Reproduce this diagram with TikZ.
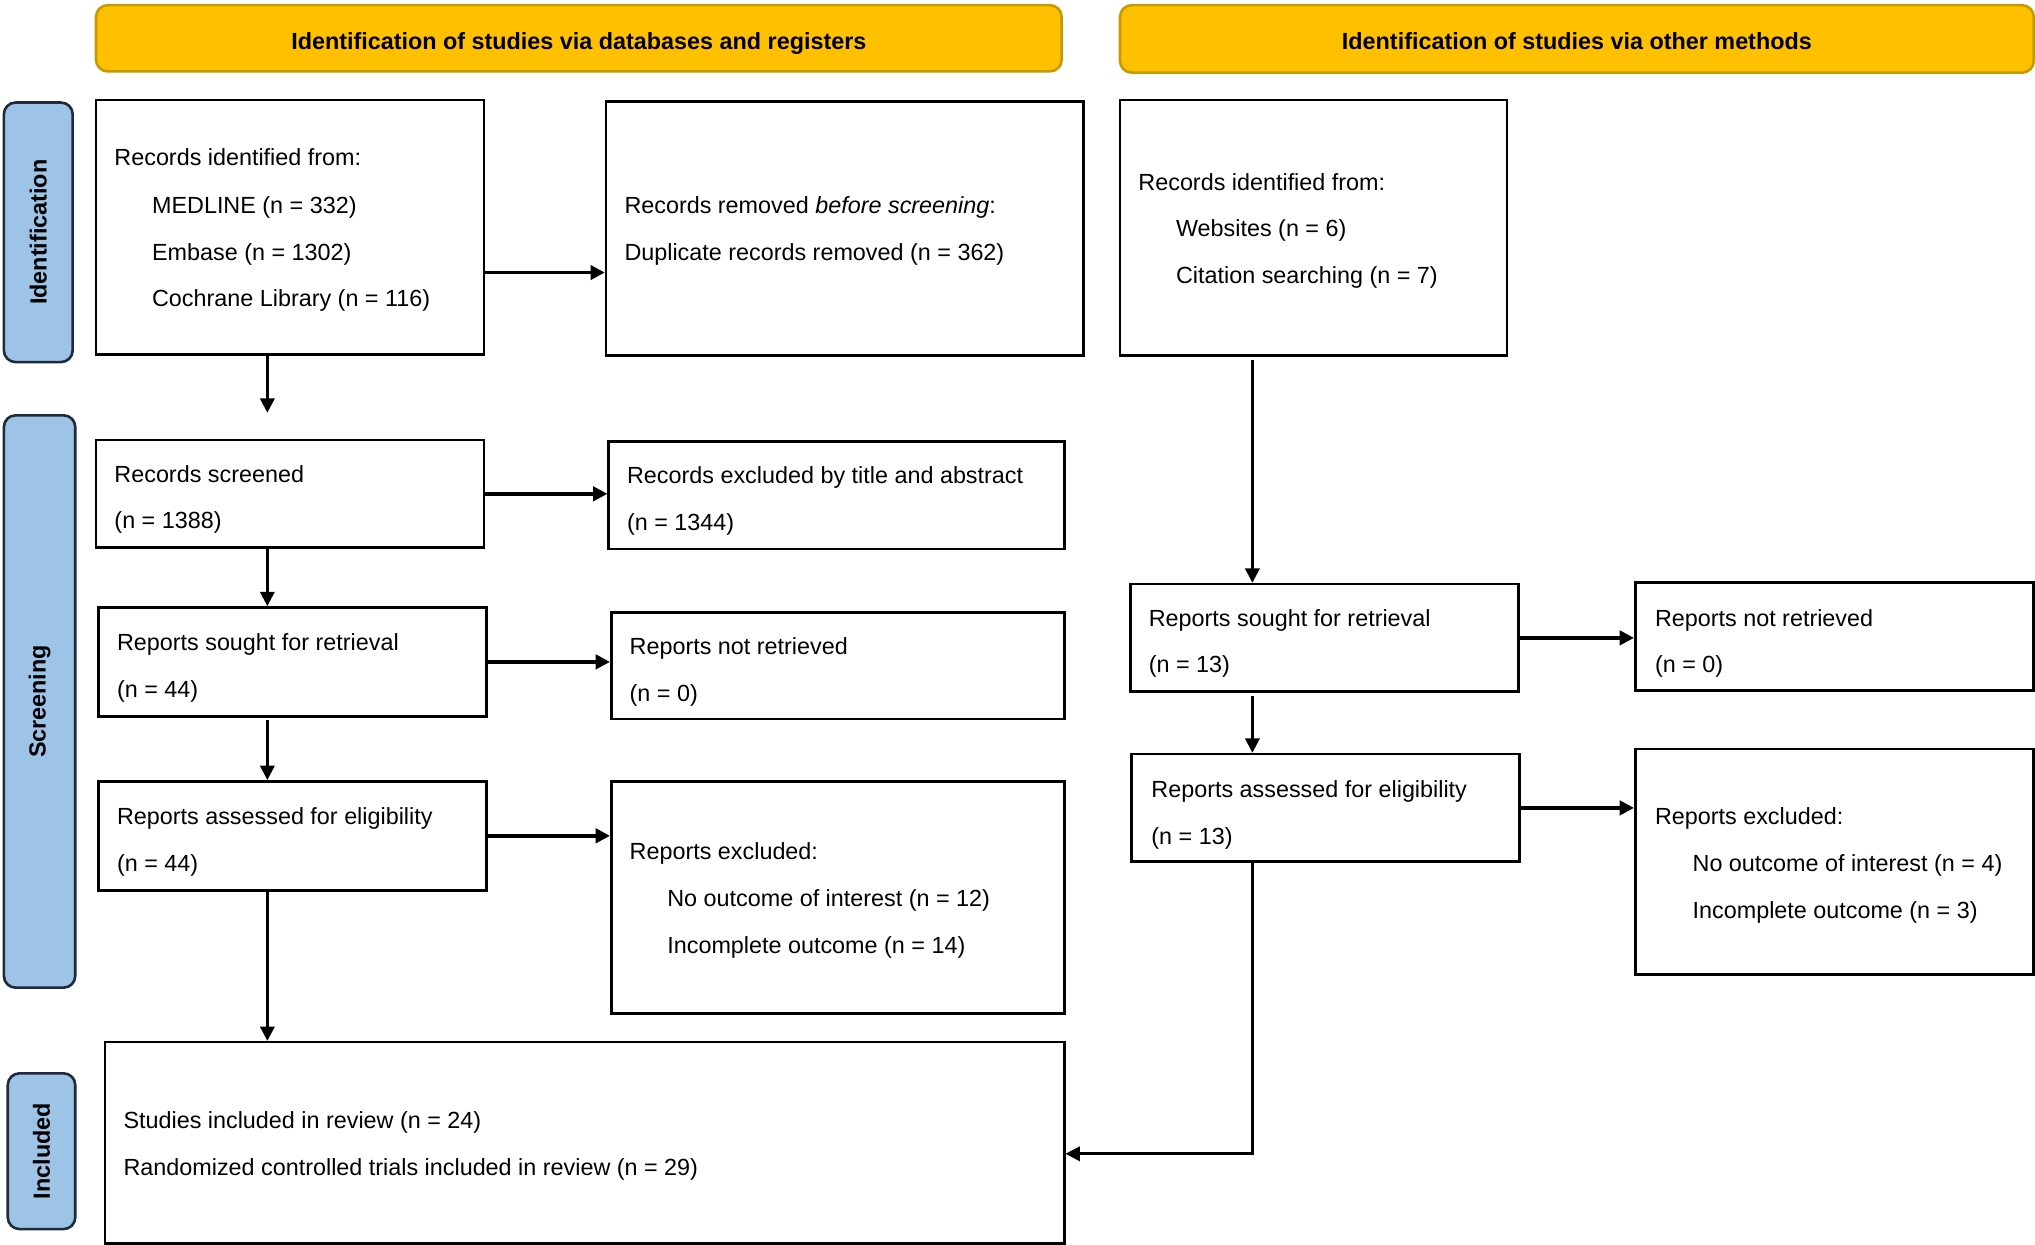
\documentclass[tikz,border=0pt]{standalone}
\usepackage{fontspec}
\setmainfont{Liberation Sans}
\usetikzlibrary{arrows.meta}
\definecolor{hdr}{HTML}{FFC000}
\definecolor{hdrb}{HTML}{C49A00}
\definecolor{side}{HTML}{9DC3E6}
\definecolor{sideb}{HTML}{1F2A3A}
\begin{document}
\begin{tikzpicture}[x=1pt,y=-1pt, font=\fontsize{18}{22}\selectfont,
 box/.style={draw, line width=2pt, anchor=north west, inner sep=0pt, fill=white},
 txt/.style={anchor=west, inner sep=0pt, text height=17pt, text depth=2pt},
 hdrbox/.style={draw=hdrb, fill=hdr, line width=2pt, rounded corners=9pt, inner sep=0pt, anchor=north west, text height=17pt, text depth=0pt, font=\fontsize{18}{22}\selectfont\bfseries},
 sidebox/.style={draw=sideb, fill=side, line width=2pt, rounded corners=9pt, inner sep=0pt, anchor=north west},
 sidetxt/.style={rotate=90, font=\fontsize{18}{22}\selectfont\bfseries, inner sep=0pt},
 arr/.style={line width=2pt, -{Triangle[length=11pt,width=11pt]}},
 harr/.style={line width=2.6pt, -{Triangle[length=11pt,width=11pt]}}]
\useasboundingbox (0,0) rectangle (1568,959);

% headers
\node[hdrbox, minimum width=744pt, minimum height=51pt] (h1) at (73,3) {Identification of studies via databases and registers};
\node[hdrbox, minimum width=704pt, minimum height=52pt] (h2) at (862,3) {Identification of studies via other methods};

% side labels
\node[sidebox, minimum width=53pt, minimum height=200pt] (s1) at (2,78) {};
\node[sidetxt] (s1t) at (s1.center) {Identification};
\node[sidebox, minimum width=55pt, minimum height=441pt] (s2) at (2,319) {};
\node[sidetxt] (s2t) at (s2.center) {Screening};
\node[sidebox, minimum width=52pt, minimum height=120pt] (s3) at (5,826) {};
\node[sidetxt] (s3t) at (s3.center) {Included};

% boxes
\node[box, minimum width=299pt, minimum height=196pt] (A) at (73,76) {};
\node[box, minimum width=368pt, minimum height=196pt] (B) at (466,77) {};
\node[box, minimum width=298pt, minimum height=197pt] (C) at (862,76) {};
\node[box, minimum width=299pt, minimum height=83pt] (D) at (73,338) {};
\node[box, minimum width=351pt, minimum height=83pt] (E) at (468,339) {};
\node[box, minimum width=299pt, minimum height=84pt] (F) at (75,467) {};
\node[box, minimum width=349pt, minimum height=82pt] (G) at (470,471) {};
\node[box, minimum width=299pt, minimum height=84pt] (H) at (75,601) {};
\node[box, minimum width=349pt, minimum height=179pt] (I) at (470,601) {};
\node[box, minimum width=739pt, minimum height=155pt] (J) at (80,802) {};
\node[box, minimum width=299pt, minimum height=83pt] (K) at (870,449) {};
\node[box, minimum width=307pt, minimum height=83pt] (L) at (1259,448) {};
\node[box, minimum width=299pt, minimum height=83pt] (M) at (871,580) {};
\node[box, minimum width=307pt, minimum height=174pt] (N) at (1259,576) {};

% texts
\node[txt] (a1) at (88,120) {Records identified from:};
\node[txt] (a2) at (117,157) {MEDLINE (n = 332)};
\node[txt] (a3) at (117,193) {Embase (n = 1302)};
\node[txt] (a4) at (117,229) {Cochrane Library (n = 116)};
\node[txt] (b1) at (481,157) {Records removed \textit{before screening}:};
\node[txt] (b2) at (481,193) {Duplicate records removed (n = 362)};
\node[txt] (c1) at (877,139) {Records identified from:};
\node[txt] (c2) at (906,175) {Websites (n = 6)};
\node[txt] (c3) at (906,211) {Citation searching (n = 7)};
\node[txt] (d1) at (88,364) {Records screened};
\node[txt] (d2) at (88,400) {(n = 1388)};
\node[txt] (e1) at (483,365) {Records excluded by title and abstract};
\node[txt] (e2) at (483,401) {(n = 1344)};
\node[txt] (f1) at (90,494) {Reports sought for retrieval};
\node[txt] (f2) at (90,530) {(n = 44)};
\node[txt] (g1) at (485,497) {Reports not retrieved};
\node[txt] (g2) at (485,533) {(n = 0)};
\node[txt] (hh1) at (90,628) {Reports assessed for eligibility};
\node[txt] (hh2) at (90,664) {(n = 44)};
\node[txt] (i1) at (485,655) {Reports excluded:};
\node[txt] (i2) at (514,691) {No outcome of interest (n = 12)};
\node[txt] (i3) at (514,727) {Incomplete outcome (n = 14)};
\node[txt] (j1) at (95,862) {Studies included in review (n = 24)};
\node[txt] (j2) at (95,898) {Randomized controlled trials included in review (n = 29)};
\node[txt] (k1) at (885,475) {Reports sought for retrieval};
\node[txt] (k2) at (885,511) {(n = 13)};
\node[txt] (l1) at (1275,475) {Reports not retrieved};
\node[txt] (l2) at (1275,511) {(n = 0)};
\node[txt] (m1) at (887,607) {Reports assessed for eligibility};
\node[txt] (m2) at (887,643) {(n = 13)};
\node[txt] (n1) at (1275,628) {Reports excluded:};
\node[txt] (n2) at (1304,664) {No outcome of interest (n = 4)};
\node[txt] (n3) at (1304,700) {Incomplete outcome (n = 3)};

% connectors
\coordinate (colL) at (206,0);
\coordinate (colR) at (965,0);
\coordinate (ab) at (0,210);
\coordinate (adEnd) at (206,318);
\coordinate (fStart) at (206,555);
\coordinate (cStart) at (965,277);
\coordinate (kStart) at (965,536);
\coordinate (mj) at (965,889);

\draw[harr] (A.east |- ab) -- (B.west |- ab);
\draw[arr] (A.south -| adEnd) -- (adEnd);
\draw[harr] (D.east) -- (D.east -| E.west);
\draw[arr] (D.south -| colL) -- (F.north -| colL);
\draw[harr] (F.east) -- (F.east -| G.west);
\draw[arr] (fStart) -- (H.north -| colL);
\draw[harr] (H.east) -- (H.east -| I.west);
\draw[arr] (H.south -| colL) -- (J.north -| colL);
\draw[arr] (cStart) -- (K.north -| colR);
\draw[harr] (K.east) -- (K.east -| L.west);
\draw[arr] (kStart) -- (M.north -| colR);
\draw[harr] (M.east) -- (M.east -| N.west);
\draw[arr] (M.south -| colR) -- (mj) -- (J.east |- mj);
\end{tikzpicture}
\end{document}
